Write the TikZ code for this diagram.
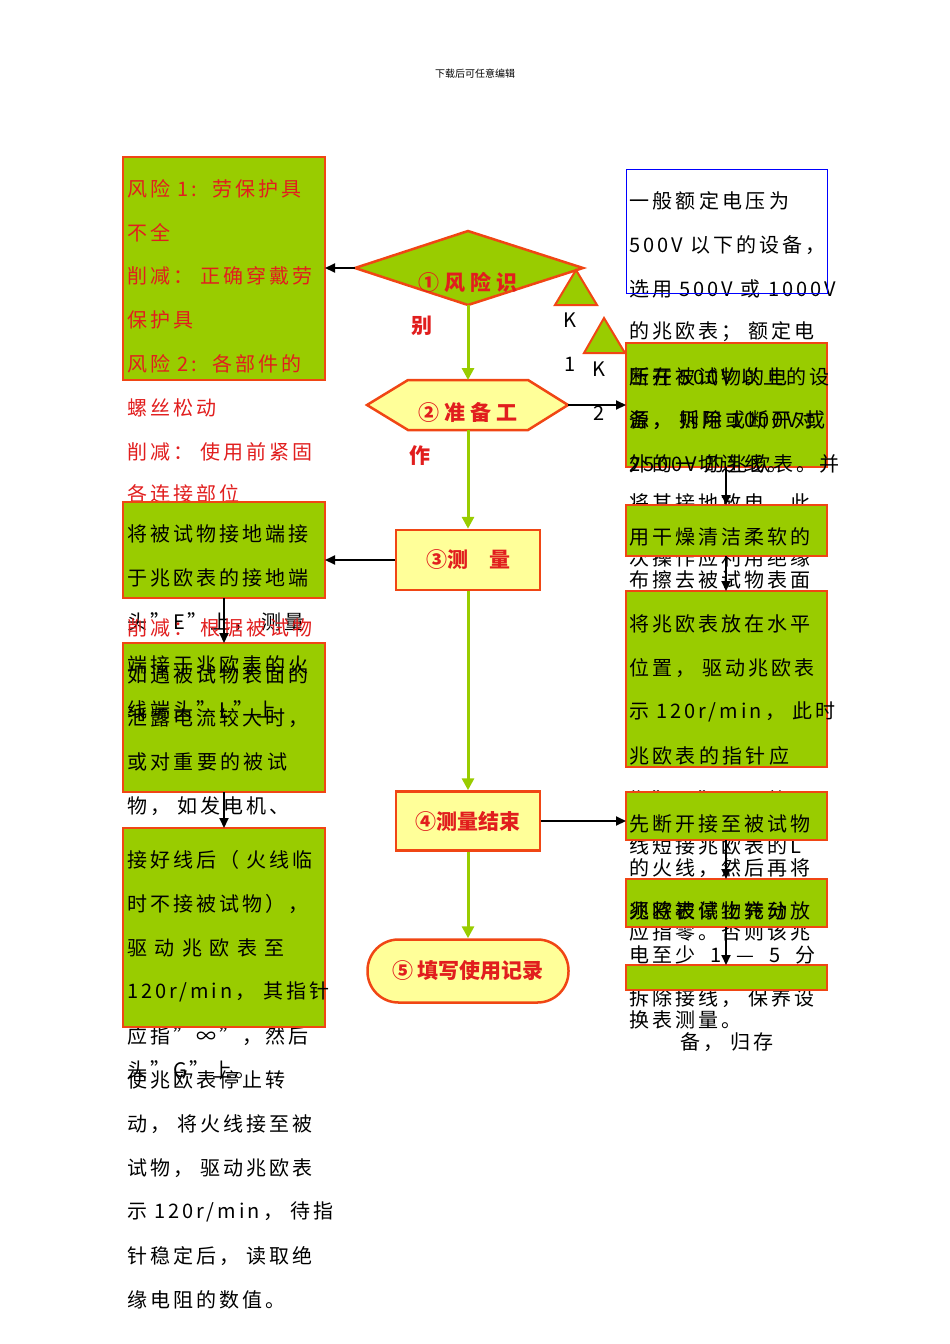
\documentclass[tikz,border=0pt]{standalone}
\usepackage{fontspec}
\setmainfont{Liberation Serif}
\newfontfamily\cjk[LetterSpace=15]{Noto Sans CJK SC}
\newfontfamily\cjkt{Noto Sans CJK SC}
\usetikzlibrary{arrows.meta}
\definecolor{gfill}{RGB}{153,204,0}
\definecolor{obord}{RGB}{240,70,20}
\definecolor{yfill}{RGB}{255,255,153}
\definecolor{rtxt}{RGB}{225,30,30}
\tikzset{
 gbox/.style={draw=obord,fill=gfill,line width=2.5pt},
 ybox/.style={draw=obord,fill=yfill,line width=2.5pt},
 ln/.style={anchor=west,inner sep=0pt,font=\cjk\fontsize{20}{20}\selectfont},
 rln/.style={ln,text=rtxt},
 ttl/.style={inner sep=0pt,text=rtxt,font=\cjkt\bfseries\fontsize{21}{21}\selectfont},
 garr/.style={draw=gfill,line width=3pt,-{Triangle[length=12pt,width=12pt]}},
 barr/.style={draw=black,line width=2pt,-{Triangle[length=10pt,width=9pt]}},
}
\begin{document}
\begin{tikzpicture}[x=1pt,y=-1pt]
\useasboundingbox (0,0) rectangle (950,1344);
\node[font=\cjkt\fontsize{10}{10}\selectfont] (hd) at (475,74) {下载后可任意编辑};
% overflow text (under boxes)
\node[rln] (o1) at (127,408) {螺丝松动};
\node[rln] (o2) at (127,452) {削减：\ 使用前紧固};
\node[rln] (o3) at (127,494) {各连接部位};
\node[ln] (o4) at (127,622) {头”E”上，\ 测量};
\node[rln] (o5) at (127,628) {削减：\ 根据被试物};
\node[ln] (o6) at (127,806) {物，\ 如发电机、};
\node[ln] (o7) at (127,1036) {应指”∞”，然后};
\node[ln] (o8) at (127,1070) {头”G”上。};
\node[ln] (o9) at (127,1080) {使兆欧表停止转};
\node[ln] (o10) at (127,1124) {动，\ 将火线接至被};
\node[ln] (o11) at (127,1168) {试物，\ 驱动兆欧表};
\node[ln] (o12) at (127,1212) {示 120r/min，\ 待指};
\node[ln] (o13) at (127,1256) {针稳定后，\ 读取绝};
\node[ln] (o14) at (127,1300) {缘电阻的数值。};
\node[ln] (p1) at (629,201) {一\,般\,额\,定\,电\,压\,为};
\node[ln] (p2) at (629,245) {500V 以下的设备，};
\node[ln] (p3) at (629,289) {选用 500V 或 1000V};
\node[ln] (p4) at (629,332) {的兆欧表；\ 额定电};
\node[ln] (p5) at (629,503) {将其接地放电，此};
\node[ln] (p6) at (629,558) {次操作应利用绝缘};
\node[ln] (p7) at (629,580) {布擦去被试物表面};
\node[ln] (p8) at (629,800) {指”∞”。再将};
\node[ln] (p9) at (629,846) {线短接兆欧表的L};
\node[ln] (p10) at (629,868) {的火线，然后再将};
\node[ln] (p11) at (629,932) {应指零。否则该兆};
\node[ln] (p12) at (629,955) {电\,至\,少\ \ 1\ \ —\ \ 5\ \ 分};
\node[ln] (p13) at (629,998) {拆除接线，\ 保养设};
\node[ln] (p14) at (629,1020) {换表测量。};
\node[ln] (p15) at (680,1042) {备，\ 归存};
% boxes
\draw[blue,line width=1pt] (626,169) rectangle (827,293);
\path[gbox] (123,157) rectangle (325,380);
\path[gbox] (123,502) rectangle (325,598);
\path[gbox] (123,643) rectangle (325,792);
\path[gbox] (123,828) rectangle (325,1027);
\path[gbox] (626,343) rectangle (827,467);
\path[gbox] (626,505) rectangle (827,556);
\path[gbox] (626,591) rectangle (827,767);
\path[gbox] (626,792) rectangle (827,840);
\path[gbox] (626,879) rectangle (827,927);
\path[gbox] (626,965) rectangle (827,990);
% flow shapes
\path[gbox] (355,268) -- (468,231) -- (583,268) -- (468,305) -- cycle;
\path[gbox,line width=2pt] (576,270) -- (597,305) -- (555,305) -- cycle;
\path[gbox,line width=2pt] (604,318) -- (625,353) -- (584,353) -- cycle;
\path[ybox] (367,405) -- (408,380) -- (528,380) -- (568,405) -- (528,430) -- (408,430) -- cycle;
\node[ybox,minimum width=144pt,minimum height=60pt,inner sep=0pt] (s3) at (468,560) {};
\node[ybox,minimum width=144pt,minimum height=59pt,inner sep=0pt] (s4) at (468,821) {};
\node[ybox,minimum width=201pt,minimum height=63pt,inner sep=0pt,rounded corners=31pt] (s5) at (468,971) {};
\node[ttl] (t1) at (468,282) {① 风\ 险\ 识};
\node[ttl] (t1b) at (422,326) {别};
\node[ttl] (t2) at (468,412) {② 准\ 备\ 工};
\node[ttl] (t2b) at (420,456) {作};
\node[ttl] at (s3) {③测\quad 量};
\node[ttl] at (s4) {④测量结束};
\node[ttl] at (s5) {⑤ 填写使用记录};
\node[ln,anchor=center] (k1) at (570,320) {K};
\node[ln,anchor=center] (k1b) at (570,364) {1};
\node[ln,anchor=center] (k2) at (599,369) {K};
\node[ln,anchor=center] (k2b) at (599,413) {2};
% connectors
\coordinate (dB) at (468,305); \coordinate (hT) at (468,380);
\coordinate (hB) at (468,430); \coordinate (dL) at (355,268);
\coordinate (hR) at (568,405);
\draw[garr] (dB) -- (hT);
\draw[garr] (hB) -- (s3.north);
\draw[garr] (s3.south) -- (s4.north);
\draw[garr] (s4.south) -- (s5.north);
\coordinate (L1r) at (325,268); \coordinate (L2r) at (325,560);
\coordinate (R1l) at (626,405); \coordinate (R4l) at (626,821);
\draw[barr] (dL) -- (L1r);
\draw[barr] (hR) -- (R1l);
\draw[barr] (s3.west) -- (L2r);
\draw[barr] (s4.east) -- (R4l);
\foreach \a/\b in {598/643,792/828}{\draw[barr] (224,\a) -- (224,\b);}
\foreach \a/\b in {467/505,556/591,840/879,927/965}{\draw[barr] (726,\a) -- (726,\b);}
% inside text
\node[rln] (a1) at (127,189) {风险 1:\ \ 劳保护具};
\node[rln] (a2) at (127,233) {不全};
\node[rln] (a3) at (127,276) {削减：\ 正确穿戴劳};
\node[rln] (a4) at (127,320) {保护具};
\node[rln] (a5) at (127,364) {风险 2:\ \ 各部件的};
\node[ln] (b1) at (127,534) {将被试物接地端接};
\node[ln] (b2) at (127,578) {于兆欧表的接地端};
\node[ln] (c1) at (127,665) {端接于兆欧表的火};
\node[ln] (c2) at (127,675) {如遇被试物表面的};
\node[ln] (c3) at (127,710) {线端头”L”上};
\node[ln] (c4) at (127,718) {泄露电流较大时，};
\node[ln] (c5) at (127,762) {或\,对\,重\,要\,的\,被\,试};
\node[ln] (d1) at (127,860) {接好线后（\ 火线临};
\node[ln] (d2) at (127,904) {时不接被试物），};
\node[ln] (d3) at (127,948) {驱\ 动\ 兆\ 欧\ 表\ 至};
\node[ln] (d4) at (127,992) {120r/min，\ 其指针};
\node[ln] (e1) at (629,377) {断开被试物的电};
\node[ln] (e2) at (629,377) {压在 500V 以上的设};
\node[ln] (e3) at (629,420) {源，\ 拆除或断开对};
\node[ln] (e4) at (629,420) {备，\ 则用 1000V 或};
\node[ln] (e5) at (629,464) {2500V 的兆欧表。并};
\node[ln] (e6) at (629,464) {外的一切连线。};
\node[ln] (f1) at (629,537) {用干燥清洁柔软的};
\node[ln] (g1) at (629,624) {将兆欧表放在水平};
\node[ln] (g2) at (629,668) {位置，\ 驱动兆欧表};
\node[ln] (g3) at (629,712) {示 120r/min，\ 此时};
\node[ln] (g4) at (629,756) {兆\,欧\,表\,的\,指\,针\,应};
\node[ln] (h1) at (629,824) {先断开接至被试物};
\node[ln] (i1) at (629,911) {须将被试物充分放};
\node[ln] (i2) at (629,911) {兆欧表停止转动};
\end{tikzpicture}
\end{document}
